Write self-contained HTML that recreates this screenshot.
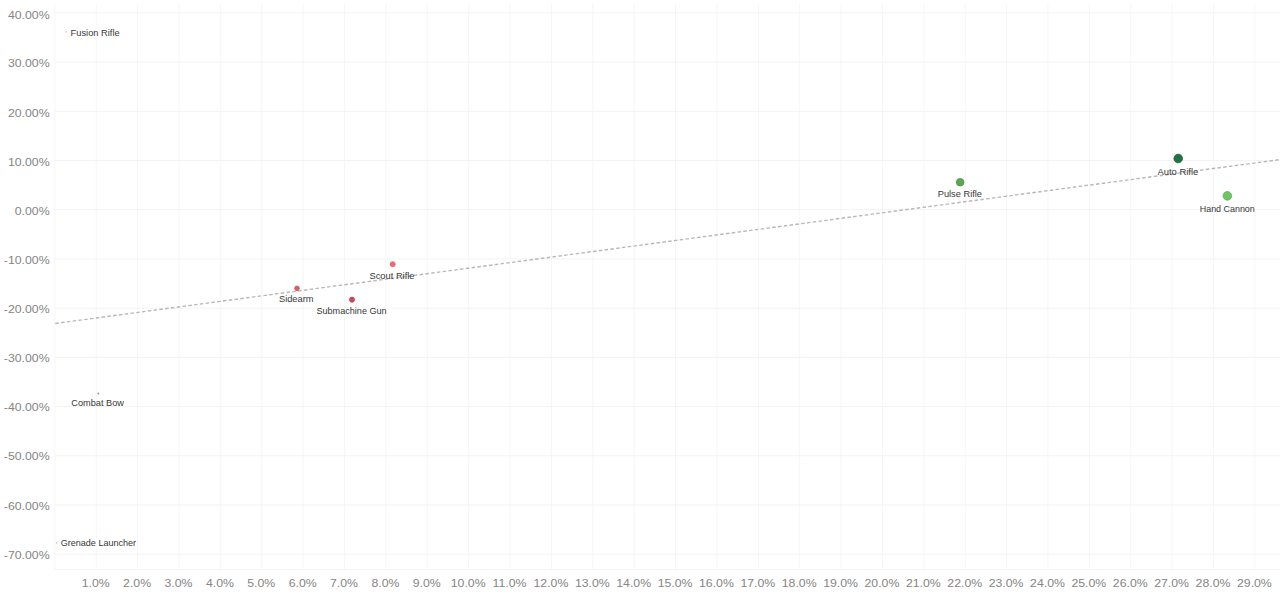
<!DOCTYPE html>
<html><head><meta charset="utf-8"><title>Weapon scatter</title>
<style>
html,body{margin:0;padding:0;background:#fff;}
body{width:1280px;height:598px;overflow:hidden;position:relative;font-family:"Liberation Sans", sans-serif;}
svg text{font-family:"Liberation Sans", sans-serif;}
</style></head>
<body>
<svg width="1280" height="598" viewBox="0 0 1280 598" style="position:absolute;left:0;top:0">
<line x1="96.24" y1="4" x2="96.24" y2="569" stroke="#f6f6f6" stroke-width="1"/>
<line x1="137.62" y1="4" x2="137.62" y2="569" stroke="#f6f6f6" stroke-width="1"/>
<line x1="179.00" y1="4" x2="179.00" y2="569" stroke="#f6f6f6" stroke-width="1"/>
<line x1="220.38" y1="4" x2="220.38" y2="569" stroke="#f6f6f6" stroke-width="1"/>
<line x1="261.76" y1="4" x2="261.76" y2="569" stroke="#f6f6f6" stroke-width="1"/>
<line x1="303.14" y1="4" x2="303.14" y2="569" stroke="#f6f6f6" stroke-width="1"/>
<line x1="344.52" y1="4" x2="344.52" y2="569" stroke="#f6f6f6" stroke-width="1"/>
<line x1="385.90" y1="4" x2="385.90" y2="569" stroke="#f6f6f6" stroke-width="1"/>
<line x1="427.28" y1="4" x2="427.28" y2="569" stroke="#f6f6f6" stroke-width="1"/>
<line x1="468.66" y1="4" x2="468.66" y2="569" stroke="#f6f6f6" stroke-width="1"/>
<line x1="510.04" y1="4" x2="510.04" y2="569" stroke="#f6f6f6" stroke-width="1"/>
<line x1="551.42" y1="4" x2="551.42" y2="569" stroke="#f6f6f6" stroke-width="1"/>
<line x1="592.80" y1="4" x2="592.80" y2="569" stroke="#f6f6f6" stroke-width="1"/>
<line x1="634.18" y1="4" x2="634.18" y2="569" stroke="#f6f6f6" stroke-width="1"/>
<line x1="675.56" y1="4" x2="675.56" y2="569" stroke="#f6f6f6" stroke-width="1"/>
<line x1="716.94" y1="4" x2="716.94" y2="569" stroke="#f6f6f6" stroke-width="1"/>
<line x1="758.32" y1="4" x2="758.32" y2="569" stroke="#f6f6f6" stroke-width="1"/>
<line x1="799.70" y1="4" x2="799.70" y2="569" stroke="#f6f6f6" stroke-width="1"/>
<line x1="841.08" y1="4" x2="841.08" y2="569" stroke="#f6f6f6" stroke-width="1"/>
<line x1="882.46" y1="4" x2="882.46" y2="569" stroke="#f6f6f6" stroke-width="1"/>
<line x1="923.84" y1="4" x2="923.84" y2="569" stroke="#f6f6f6" stroke-width="1"/>
<line x1="965.22" y1="4" x2="965.22" y2="569" stroke="#f6f6f6" stroke-width="1"/>
<line x1="1006.60" y1="4" x2="1006.60" y2="569" stroke="#f6f6f6" stroke-width="1"/>
<line x1="1047.98" y1="4" x2="1047.98" y2="569" stroke="#f6f6f6" stroke-width="1"/>
<line x1="1089.36" y1="4" x2="1089.36" y2="569" stroke="#f6f6f6" stroke-width="1"/>
<line x1="1130.74" y1="4" x2="1130.74" y2="569" stroke="#f6f6f6" stroke-width="1"/>
<line x1="1172.12" y1="4" x2="1172.12" y2="569" stroke="#f6f6f6" stroke-width="1"/>
<line x1="1213.50" y1="4" x2="1213.50" y2="569" stroke="#f6f6f6" stroke-width="1"/>
<line x1="1254.88" y1="4" x2="1254.88" y2="569" stroke="#f6f6f6" stroke-width="1"/>
<line x1="54" y1="554.24" x2="1280" y2="554.24" stroke="#f3f3f3" stroke-width="1"/>
<line x1="54" y1="505.03" x2="1280" y2="505.03" stroke="#f3f3f3" stroke-width="1"/>
<line x1="54" y1="455.81" x2="1280" y2="455.81" stroke="#f3f3f3" stroke-width="1"/>
<line x1="54" y1="406.59" x2="1280" y2="406.59" stroke="#f3f3f3" stroke-width="1"/>
<line x1="54" y1="357.38" x2="1280" y2="357.38" stroke="#f3f3f3" stroke-width="1"/>
<line x1="54" y1="308.16" x2="1280" y2="308.16" stroke="#f3f3f3" stroke-width="1"/>
<line x1="54" y1="258.95" x2="1280" y2="258.95" stroke="#f3f3f3" stroke-width="1"/>
<line x1="54" y1="209.73" x2="1280" y2="209.73" stroke="#f3f3f3" stroke-width="1"/>
<line x1="54" y1="160.51" x2="1280" y2="160.51" stroke="#f3f3f3" stroke-width="1"/>
<line x1="54" y1="111.30" x2="1280" y2="111.30" stroke="#f3f3f3" stroke-width="1"/>
<line x1="54" y1="62.08" x2="1280" y2="62.08" stroke="#f3f3f3" stroke-width="1"/>
<line x1="54" y1="12.87" x2="1280" y2="12.87" stroke="#f3f3f3" stroke-width="1"/>
<line x1="54.86" y1="4" x2="54.86" y2="570" stroke="#f6f6f6" stroke-width="1"/>
<line x1="54.36" y1="569.5" x2="1280" y2="569.5" stroke="#f3f3f3" stroke-width="1"/>
<text transform="translate(49.6 559.0) scale(1.07 1)" text-anchor="end" font-size="11.5" fill="#858585">-70.00%</text>
<text transform="translate(49.6 509.6) scale(1.07 1)" text-anchor="end" font-size="11.5" fill="#858585">-60.00%</text>
<text transform="translate(49.6 459.7) scale(1.07 1)" text-anchor="end" font-size="11.5" fill="#858585">-50.00%</text>
<text transform="translate(49.6 411.2) scale(1.07 1)" text-anchor="end" font-size="11.5" fill="#858585">-40.00%</text>
<text transform="translate(49.6 361.6) scale(1.07 1)" text-anchor="end" font-size="11.5" fill="#858585">-30.00%</text>
<text transform="translate(49.6 312.5) scale(1.07 1)" text-anchor="end" font-size="11.5" fill="#858585">-20.00%</text>
<text transform="translate(49.6 264.0) scale(1.07 1)" text-anchor="end" font-size="11.5" fill="#858585">-10.00%</text>
<text transform="translate(49.6 214.6) scale(1.07 1)" text-anchor="end" font-size="11.5" fill="#858585">0.00%</text>
<text transform="translate(49.6 165.6) scale(1.07 1)" text-anchor="end" font-size="11.5" fill="#858585">10.00%</text>
<text transform="translate(49.6 116.5) scale(1.07 1)" text-anchor="end" font-size="11.5" fill="#858585">20.00%</text>
<text transform="translate(49.6 66.5) scale(1.07 1)" text-anchor="end" font-size="11.5" fill="#858585">30.00%</text>
<text transform="translate(49.6 18.6) scale(1.07 1)" text-anchor="end" font-size="11.5" fill="#858585">40.00%</text>
<text transform="translate(95.74 587) scale(1.07 1)" text-anchor="middle" font-size="11.5" fill="#858585">1.0%</text>
<text transform="translate(137.12 587) scale(1.07 1)" text-anchor="middle" font-size="11.5" fill="#858585">2.0%</text>
<text transform="translate(178.50 587) scale(1.07 1)" text-anchor="middle" font-size="11.5" fill="#858585">3.0%</text>
<text transform="translate(219.88 587) scale(1.07 1)" text-anchor="middle" font-size="11.5" fill="#858585">4.0%</text>
<text transform="translate(261.26 587) scale(1.07 1)" text-anchor="middle" font-size="11.5" fill="#858585">5.0%</text>
<text transform="translate(302.64 587) scale(1.07 1)" text-anchor="middle" font-size="11.5" fill="#858585">6.0%</text>
<text transform="translate(344.02 587) scale(1.07 1)" text-anchor="middle" font-size="11.5" fill="#858585">7.0%</text>
<text transform="translate(385.40 587) scale(1.07 1)" text-anchor="middle" font-size="11.5" fill="#858585">8.0%</text>
<text transform="translate(426.78 587) scale(1.07 1)" text-anchor="middle" font-size="11.5" fill="#858585">9.0%</text>
<text transform="translate(468.16 587) scale(1.07 1)" text-anchor="middle" font-size="11.5" fill="#858585">10.0%</text>
<text transform="translate(509.54 587) scale(1.07 1)" text-anchor="middle" font-size="11.5" fill="#858585">11.0%</text>
<text transform="translate(550.92 587) scale(1.07 1)" text-anchor="middle" font-size="11.5" fill="#858585">12.0%</text>
<text transform="translate(592.30 587) scale(1.07 1)" text-anchor="middle" font-size="11.5" fill="#858585">13.0%</text>
<text transform="translate(633.68 587) scale(1.07 1)" text-anchor="middle" font-size="11.5" fill="#858585">14.0%</text>
<text transform="translate(675.06 587) scale(1.07 1)" text-anchor="middle" font-size="11.5" fill="#858585">15.0%</text>
<text transform="translate(716.44 587) scale(1.07 1)" text-anchor="middle" font-size="11.5" fill="#858585">16.0%</text>
<text transform="translate(757.82 587) scale(1.07 1)" text-anchor="middle" font-size="11.5" fill="#858585">17.0%</text>
<text transform="translate(799.20 587) scale(1.07 1)" text-anchor="middle" font-size="11.5" fill="#858585">18.0%</text>
<text transform="translate(840.58 587) scale(1.07 1)" text-anchor="middle" font-size="11.5" fill="#858585">19.0%</text>
<text transform="translate(881.96 587) scale(1.07 1)" text-anchor="middle" font-size="11.5" fill="#858585">20.0%</text>
<text transform="translate(923.34 587) scale(1.07 1)" text-anchor="middle" font-size="11.5" fill="#858585">21.0%</text>
<text transform="translate(964.72 587) scale(1.07 1)" text-anchor="middle" font-size="11.5" fill="#858585">22.0%</text>
<text transform="translate(1006.10 587) scale(1.07 1)" text-anchor="middle" font-size="11.5" fill="#858585">23.0%</text>
<text transform="translate(1047.48 587) scale(1.07 1)" text-anchor="middle" font-size="11.5" fill="#858585">24.0%</text>
<text transform="translate(1088.86 587) scale(1.07 1)" text-anchor="middle" font-size="11.5" fill="#858585">25.0%</text>
<text transform="translate(1130.24 587) scale(1.07 1)" text-anchor="middle" font-size="11.5" fill="#858585">26.0%</text>
<text transform="translate(1171.62 587) scale(1.07 1)" text-anchor="middle" font-size="11.5" fill="#858585">27.0%</text>
<text transform="translate(1213.00 587) scale(1.07 1)" text-anchor="middle" font-size="11.5" fill="#858585">28.0%</text>
<text transform="translate(1254.38 587) scale(1.07 1)" text-anchor="middle" font-size="11.5" fill="#858585">29.0%</text>
<line x1="54.86" y1="323.5" x2="1280" y2="159.6" stroke="#b8b8b8" stroke-width="1.4" stroke-dasharray="3.5 2.333" stroke-dashoffset="-0.45"/>
<circle cx="66.1" cy="31.9" r="0.80" fill="#c8c8c8"/>
<circle cx="98.35" cy="393.5" r="1.10" fill="#c09a90"/>
<circle cx="56.7" cy="542.9" r="0.80" fill="#c8c8c8"/>
<circle cx="297.0" cy="288.35" r="2.35" fill="#da6163" stroke="#c4585b" stroke-width="0.8"/>
<circle cx="352.0" cy="299.65" r="2.55" fill="#cc4b60" stroke="#b94658" stroke-width="0.8"/>
<circle cx="392.7" cy="264.2" r="2.50" fill="#f26a70" stroke="#dc6466" stroke-width="0.8"/>
<circle cx="960.15" cy="182.25" r="3.80" fill="#59a84f" stroke="#4c9045" stroke-width="0.8"/>
<circle cx="1178.2" cy="158.5" r="4.30" fill="#1e7540" stroke="#1a5c32" stroke-width="0.8"/>
<circle cx="1227.35" cy="195.85" r="4.30" fill="#6ec564" stroke="#62a95b" stroke-width="0.8"/>
<text x="95.15" y="35.6" text-anchor="middle" font-size="9.8" textLength="49.10" lengthAdjust="spacingAndGlyphs" fill="#383838">Fusion Rifle</text>
<text x="97.68" y="405.6" text-anchor="middle" font-size="9.8" textLength="52.65" lengthAdjust="spacingAndGlyphs" fill="#383838">Combat Bow</text>
<text x="98.40" y="546.4" text-anchor="middle" font-size="9.8" textLength="75.50" lengthAdjust="spacingAndGlyphs" fill="#383838">Grenade Launcher</text>
<text x="296.25" y="301.9" text-anchor="middle" font-size="9.8" textLength="34.60" lengthAdjust="spacingAndGlyphs" fill="#383838">Sidearm</text>
<text x="351.55" y="314.2" text-anchor="middle" font-size="9.8" textLength="70.20" lengthAdjust="spacingAndGlyphs" fill="#383838">Submachine Gun</text>
<text x="392.00" y="278.5" text-anchor="middle" font-size="9.8" textLength="45.10" lengthAdjust="spacingAndGlyphs" fill="#383838">Scout Rifle</text>
<text x="959.85" y="197.2" text-anchor="middle" font-size="9.8" textLength="44.20" lengthAdjust="spacingAndGlyphs" fill="#383838">Pulse Rifle</text>
<text x="1177.90" y="174.5" text-anchor="middle" font-size="9.8" textLength="40.90" lengthAdjust="spacingAndGlyphs" fill="#383838">Auto Rifle</text>
<text x="1227.25" y="211.6" text-anchor="middle" font-size="9.8" textLength="55.00" lengthAdjust="spacingAndGlyphs" fill="#383838">Hand Cannon</text>
</svg>
</body></html>
